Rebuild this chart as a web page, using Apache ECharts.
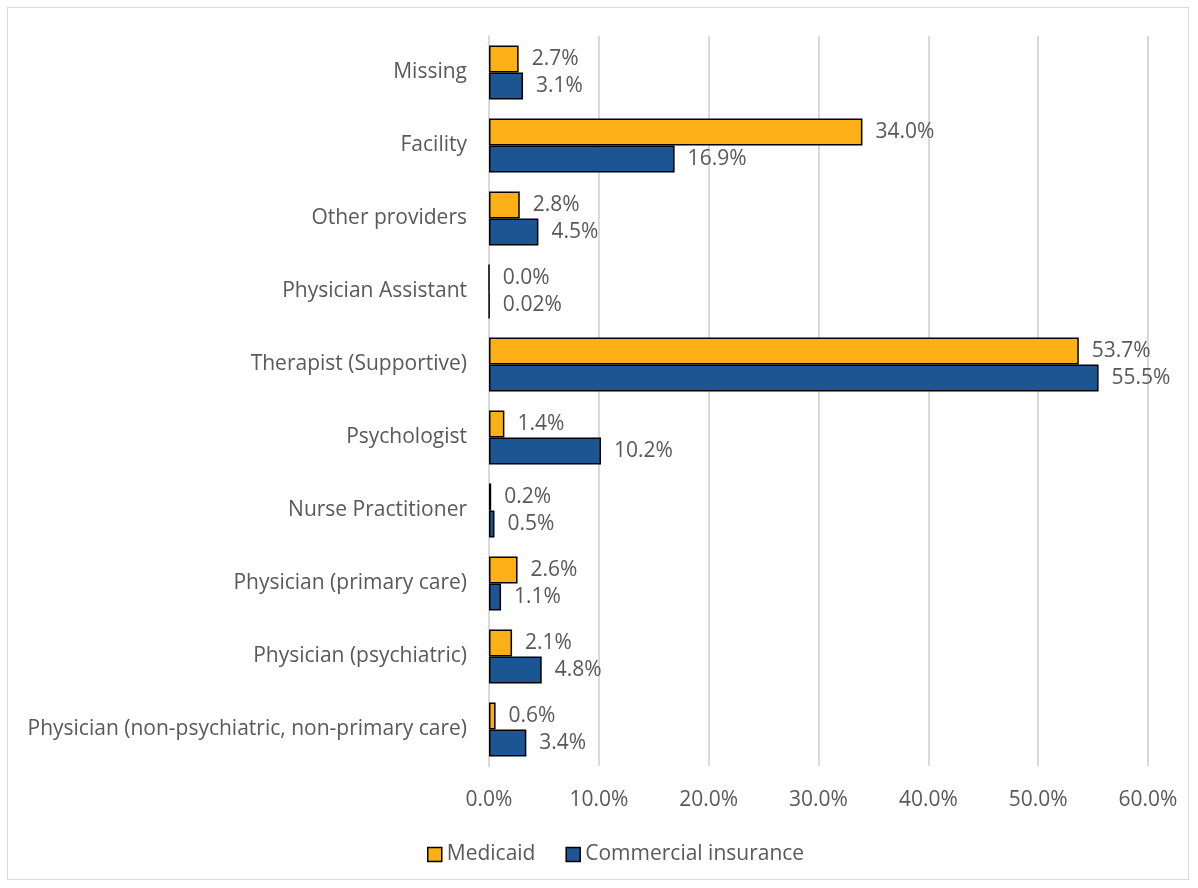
<!DOCTYPE html>
<html>
<head>
<meta charset="utf-8">
<script src="https://cdn.jsdelivr.net/npm/echarts@6/dist/echarts.min.js"></script>
<style>
html,body{margin:0;padding:0;background:#fff;}
#frame{position:absolute;left:7px;top:7px;width:1182px;height:873px;border:1px solid #d9d9d9;box-sizing:border-box;}
#chart{position:absolute;left:0;top:0;width:1198px;height:888px;}
</style>
</head>
<body>
<div id="frame"></div>
<div id="chart"></div>
<script>
// Categories listed bottom to top
const categories = [
  "Physician (non-psychiatric, non-primary care)",
  "Physician (psychiatric)",
  "Physician (primary care)",
  "Nurse Practitioner",
  "Psychologist",
  "Therapist (Supportive)",
  "Physician Assistant",
  "Other providers",
  "Facility",
  "Missing"
];
const medicaid = [0.6, 2.1, 2.6, 0.2, 1.4, 53.7, 0.0, 2.8, 34.0, 2.7];
const commercial = [3.4, 4.8, 1.1, 0.5, 10.2, 55.5, 0.02, 4.5, 16.9, 3.1];
const seriesNames = ["Medicaid", "Commercial insurance"];
const xTicks = [0, 10, 20, 30, 40, 50, 60];

const FONT = "Open Sans";
const FS = 21;
const TXT = "#595959";
function fmt(v){ return (v > 0 && v < 0.1 ? v.toFixed(2) : v.toFixed(1)) + "%"; }

const chart = echarts.init(document.getElementById('chart'), null, {renderer:'canvas'});
const labelCfg = {
  show: true, position: 'right', distance: 13,
  color: TXT, fontFamily: FONT, fontSize: FS, padding: [3, 0, 0, 0],
  formatter: p => fmt(p.value)
};
chart.setOption({
  animation: false,
  textStyle: {fontFamily: FONT},
  grid: {left: 489, right: 50, top: 36, bottom: 122, containLabel: false},
  legend: {
    data: seriesNames,
    bottom: 18, left: 422,
    itemWidth: 14, itemHeight: 14, itemGap: 30,
    icon: 'rect',
    textStyle: {color: TXT, fontFamily: FONT, fontSize: FS},
    itemStyle: {borderColor: '#000', borderWidth: 1.5}
  },
  xAxis: {
    type: 'value', min: xTicks[0], max: xTicks[xTicks.length-1], interval: 10,
    axisLine: {show: false}, axisTick: {show: false},
    splitLine: {show: true, lineStyle: {color: '#d9d9d9', width: 2}},
    axisLabel: {color: TXT, fontFamily: FONT, fontSize: FS, margin: 24,
      formatter: v => v.toFixed(1) + '%'}
  },
  yAxis: {
    type: 'category', data: categories,
    axisLine: {show: true, lineStyle: {color: '#d9d9d9', width: 2}},
    axisTick: {show: false},
    axisLabel: {color: TXT, fontFamily: FONT, fontSize: FS, margin: 22, padding: [4, 0, 0, 0]}
  },
  series: [
    {name: seriesNames[0], type: 'bar', data: medicaid, barGap: '0%', barCategoryGap: '26%',
     itemStyle: {color: '#fcaf17', borderColor: '#000', borderWidth: 1.5}, label: labelCfg},
    {name: seriesNames[1], type: 'bar', data: commercial, barGap: '0%', barCategoryGap: '26%',
     itemStyle: {color: '#1b5592', borderColor: '#000', borderWidth: 1.5}, label: labelCfg}
  ]
});
</script>
</body>
</html>
